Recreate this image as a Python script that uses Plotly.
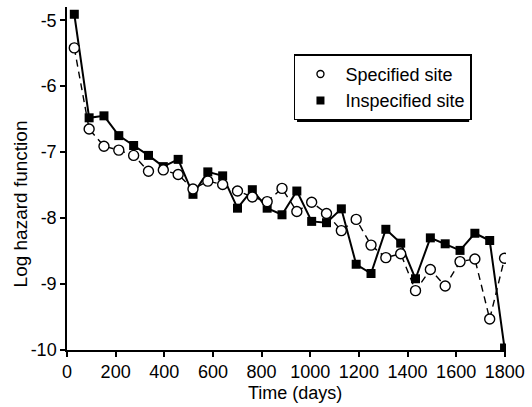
import plotly.graph_objects as go

# Data
days = [30, 91, 152, 213, 274, 335, 396, 457, 518, 579, 640, 701, 762, 823, 884,
        945, 1006, 1067, 1128, 1189, 1250, 1311, 1372, 1433, 1494, 1555, 1616, 1677, 1738, 1799]

specified = [-5.42, -6.65, -6.91, -6.97, -7.05, -7.29, -7.27, -7.34, -7.56, -7.44,
             -7.49, -7.59, -7.68, -7.75, -7.55, -7.90, -7.76, -7.93, -8.19, -8.02,
             -8.41, -8.60, -8.54, -9.10, -8.78, -9.03, -8.66, -8.62, -9.53, -8.61]

inspecified = [-4.91, -6.48, -6.45, -6.75, -6.90, -7.05, -7.22, -7.11, -7.64, -7.30,
               -7.36, -7.85, -7.57, -7.85, -7.95, -7.59, -8.05, -8.07, -7.86, -8.70,
               -8.84, -8.17, -8.38, -8.92, -8.30, -8.39, -8.49, -8.23, -8.34, -9.97]

x_ticks = [0, 200, 400, 600, 800, 1000, 1200, 1400, 1600, 1800]
x_tick_labels = ["0", "200", "400", "600", "800", "1000", "1200", "1400", "1600", "1800"]
y_ticks = [-10, -9, -8, -7, -6, -5]
y_tick_labels = ["-10", "-9", "-8", "-7", "-6", "-5"]

series_names = ["Specified site", "Inspecified site"]

FONT = "Liberation Sans, Arial, Helvetica, sans-serif"

fig = go.Figure()

# Inspecified site: solid line, filled squares
fig.add_trace(go.Scatter(
    x=days, y=inspecified, mode="lines+markers", showlegend=False,
    line=dict(color="black", width=2),
    marker=dict(symbol="square", size=9, color="black"),
))

# Specified site: dashed line, open circles
fig.add_trace(go.Scatter(
    x=days, y=specified, mode="lines+markers", showlegend=False,
    line=dict(color="black", width=1.4, dash="7px,5px"),
    marker=dict(symbol="circle", size=10, color="white",
                line=dict(color="black", width=1.4)),
))

# Legend entries (markers only)
fig.add_trace(go.Scatter(
    x=[None], y=[None], mode="markers", name=series_names[0],
    marker=dict(symbol="circle", size=7, color="white",
                line=dict(color="black", width=1.4)),
))
fig.add_trace(go.Scatter(
    x=[None], y=[None], mode="markers", name=series_names[1],
    marker=dict(symbol="square", size=8, color="black"),
))

fig.update_layout(
    width=532, height=407,
    margin=dict(l=67, r=24, t=7, b=57),
    paper_bgcolor="white", plot_bgcolor="white",
    font=dict(family=FONT, size=18, color="black"),
    showlegend=True,
    legend=dict(
        x=0.517, y=0.862, xanchor="left", yanchor="top",
        bgcolor="white", bordercolor="black", borderwidth=1.5,
        font=dict(family=FONT, size=18, color="black"),
        itemwidth=40, tracegroupgap=0,
    ),
    xaxis=dict(
        range=[0, 1805], tickvals=x_ticks, ticktext=x_tick_labels,
        showline=True, linecolor="black", linewidth=1.5,
        ticks="outside", ticklen=5, tickwidth=1.5, tickcolor="black",
        showgrid=False, zeroline=False,
        tickfont=dict(family=FONT, size=18, color="black"),
    ),
    yaxis=dict(
        range=[-10, -4.8], tickvals=y_ticks, ticktext=y_tick_labels,
        showline=True, linecolor="black", linewidth=1.5,
        ticks="outside", ticklen=5, tickwidth=1.5, tickcolor="black",
        showgrid=False, zeroline=False,
        tickfont=dict(family=FONT, size=18, color="black"),
    ),
    shapes=[
        # drop shadow behind the legend box
        dict(type="rect", xref="paper", yref="paper", layer="above",
             x0=0.524, x1=0.916, y0=0.665, y1=0.854,
             fillcolor="black", line=dict(width=0)),
    ],
    annotations=[
        dict(text="Time (days)", xref="paper", yref="paper", x=0.519, y=-0.125,
             xanchor="center", yanchor="middle", showarrow=False,
             font=dict(family=FONT, size=18, color="black")),
        dict(text="Log hazard function", xref="paper", yref="paper", x=-0.1066, y=0.425,
             xanchor="center", yanchor="middle", showarrow=False, textangle=-90,
             font=dict(family=FONT, size=19, color="black")),
    ],
)

fig.write_html("out.html")
